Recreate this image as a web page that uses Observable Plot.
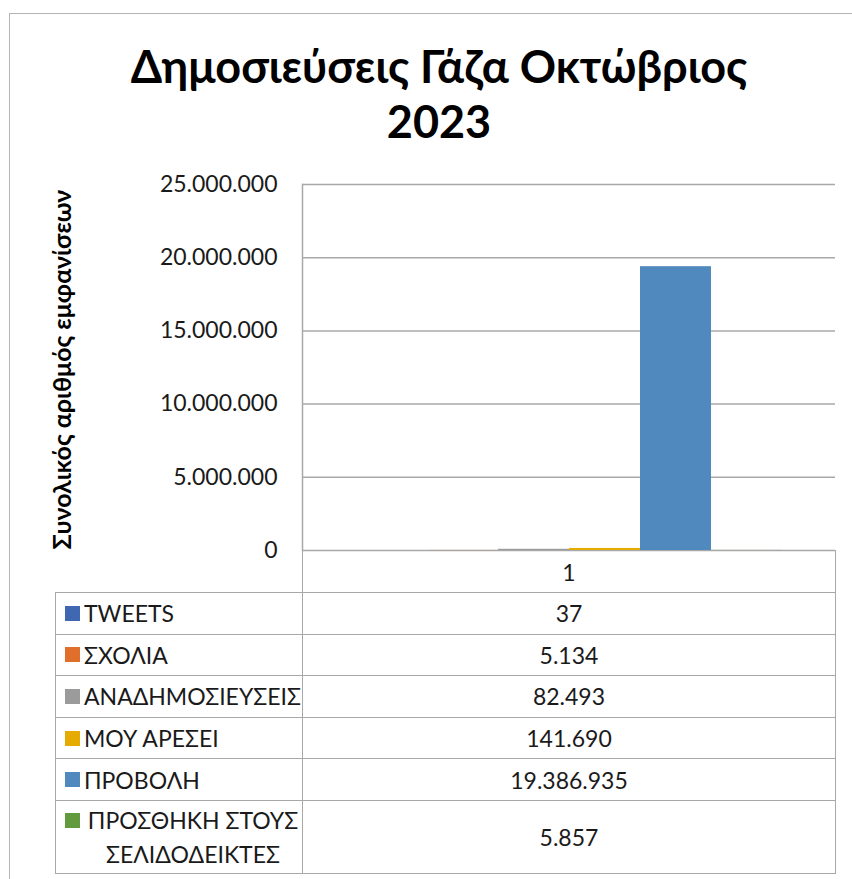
<!DOCTYPE html>
<html>
<head>
<meta charset="utf-8">
<script src="https://cdn.jsdelivr.net/npm/d3@7"></script>
<script src="https://cdn.jsdelivr.net/npm/@observablehq/plot@0.6"></script>
<style>
  html, body { margin: 0; padding: 0; background: #fff; }
  #wrap { position: relative; width: 852px; height: 879px; overflow: hidden; font-family: Lato, "Open Sans", sans-serif; color: #1a1a1a; }
  #outer { position: absolute; left: 9px; top: 13px; width: 900px; height: 900px; border: 1.5px solid #b4b4b4; box-sizing: border-box; }
  #title { position: absolute; left: 9px; width: 860px; top: 39px; text-align: center; font-weight: bold; font-size: 45px; line-height: 55px; color: #000; }
  #chart { position: absolute; left: 0; top: 160px; }
  #tbl { position: absolute; left: 55px; top: 550px; border-collapse: collapse; table-layout: fixed; width: 780px; font-size: 23px; }
  #tbl td { padding: 0; border: 1.5px solid #a8a8a8; }
  #tbl td.blank { border: none; border-bottom: 1.5px solid #a8a8a8; }
  #tbl td.val { text-align: center; }
  .lab { display: flex; align-items: center; padding-left: 9px; }
  .lab.multi { align-items: flex-start; }
  .key { width: 15px; height: 15px; flex: none; margin-right: 4px; }
  .lab.multi .key { margin-top: 10px; }
  .txt { text-align: center; line-height: 34px; }
</style>
</head>
<body>
<div id="wrap">
  <div id="outer"></div>
  <div id="title"></div>
  <div id="chart"></div>
  <table id="tbl"></table>
</div>
<script>
// ---- data ----
const titleLines = ["Δημοσιεύσεις Γάζα Οκτώβριος", "2023"];
const yLabel = "Συνολικός αριθμός εμφανίσεων";
const category = "1";
const series = ["TWEETS", "ΣΧΟΛΙΑ", "ΑΝΑΔΗΜΟΣΙΕΥΣΕΙΣ", "ΜΟΥ ΑΡΕΣΕΙ", "ΠΡΟΒΟΛΗ", "ΠΡΟΣΘΗΚΗ ΣΤΟΥΣ ΣΕΛΙΔΟΔΕΙΚΤΕΣ"];
const values = [37, 5134, 82493, 141690, 19386935, 5857];
const colors = ["#4067b1", "#df6f2a", "#9b9b9b", "#e5ab00", "#4f89bd", "#619b3e"];
const yTicks = [0, 5000000, 10000000, 15000000, 20000000, 25000000];

const locale = d3.formatLocale({decimal: ",", thousands: ".", grouping: [3], currency: ["", "€"]});
const fmt = locale.format(",d");

document.getElementById("title").innerHTML = titleLines.join("<br>");

const data = series.map((s, i) => ({series: s, value: values[i]}));

const chart = Plot.plot({
  width: 852,
  height: 390,
  marginLeft: 302,
  marginRight: 17,
  marginTop: 24,
  marginBottom: 0,
  style: {fontFamily: "Lato, 'Open Sans', sans-serif", fontSize: "23px", overflow: "visible", color: "#1a1a1a"},
  x: {domain: series, paddingInner: 0, paddingOuter: 0.75, axis: null},
  y: {domain: [0, 25000000], label: null},
  color: {domain: series, range: colors},
  marks: [
    Plot.gridY(yTicks, {stroke: "#a8a8a8", strokeOpacity: 1, strokeWidth: 1.5}),
    Plot.axisY(yTicks, {tickSize: 0, tickPadding: 25, tickFormat: fmt, fontSize: 23, label: null, fill: "#1a1a1a"}),
    Plot.barY(data, {x: "series", y: "value", fill: "series"}),
    Plot.frame({anchor: "left", stroke: "#a8a8a8", strokeWidth: 1.5}),
    Plot.text([yLabel], {frameAnchor: "left", dx: -240, dy: 2, rotate: -90, textAnchor: "middle", lineAnchor: "middle", fontWeight: "bold", fontSize: 25, fill: "#000"})
  ]
});
document.getElementById("chart").appendChild(chart);

// data table (category row + legend rows)
const tbl = document.getElementById("tbl");
tbl.innerHTML = `<colgroup><col style="width:247px"><col style="width:533px"></colgroup>`;
const head = document.createElement("tr");
head.style.height = "42px";
head.innerHTML = `<td class="blank"></td><td class="val">${category}</td>`;
tbl.appendChild(head);
series.forEach((s, i) => {
  const tr = document.createElement("tr");
  const multi = s.length > 20;
  tr.style.height = multi ? "73px" : "41.6px";
  tr.innerHTML = `<td><div class="lab${multi ? " multi" : ""}"><span class="key" style="background:${colors[i]}"></span><span class="txt">${s}</span></div></td><td class="val">${fmt(values[i])}</td>`;
  tbl.appendChild(tr);
});
</script>
</body>
</html>
